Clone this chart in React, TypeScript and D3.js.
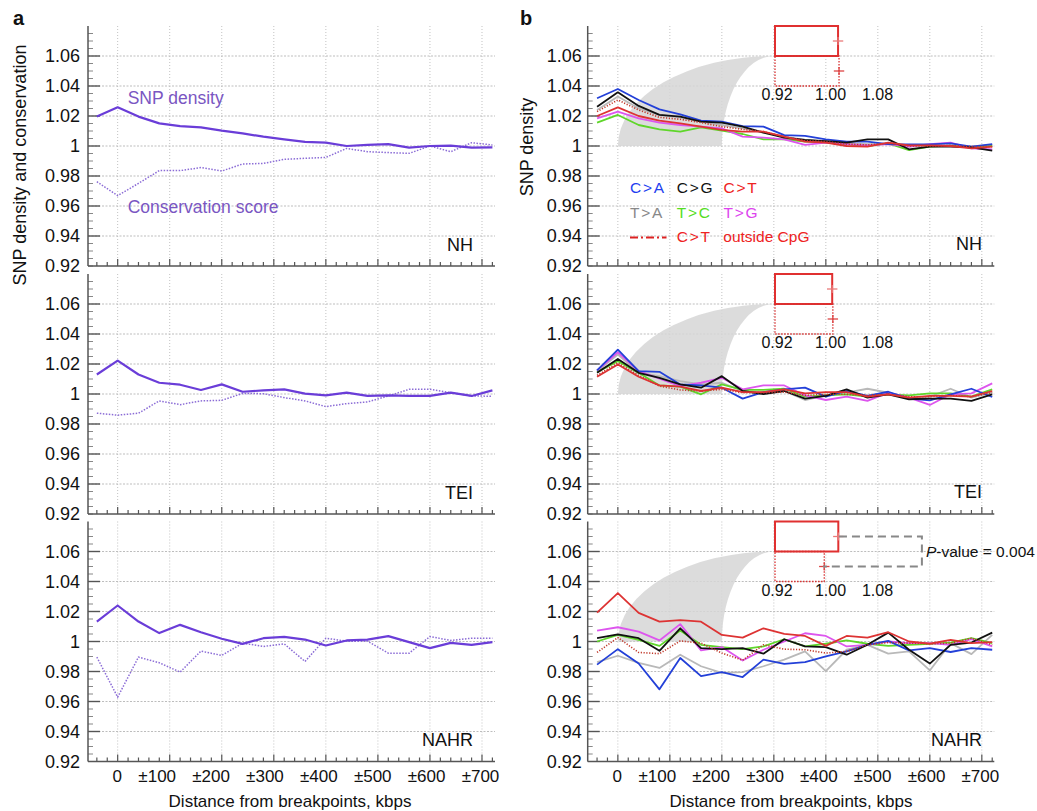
import React from "react";
import * as d3 from "d3";

// ---------- DATA ----------
const DIST = [-40, 0, 40, 80, 120, 160, 200, 240, 280, 320, 360, 400, 440, 480, 520, 560, 600, 640, 680, 720];
const X_TICKS = [0, 100, 200, 300, 400, 500, 600, 700];
const X_TICK_LABELS = ["0", "±100", "±200", "±300", "±400", "±500", "±600", "±700"];
const Y_TICKS = [0.92, 0.94, 0.96, 0.98, 1.0, 1.02, 1.04, 1.06];
const Y_TICK_LABELS = ["0.92", "0.94", "0.96", "0.98", "1", "1.02", "1.04", "1.06"];
const PANELS = ["NH", "TEI", "NAHR"];

// panel a: SNP density & conservation
const NH_SNP = [1.0196, 1.0258, 1.0196, 1.0151, 1.0133, 1.0124, 1.0102, 1.0084, 1.0062, 1.0044, 1.0027, 1.0022, 1.0, 1.0007, 1.0013, 0.9989, 1.0, 1.0002, 0.9989, 0.9991];
const NH_CONS = [0.9762, 0.9669, 0.9751, 0.9836, 0.9836, 0.9856, 0.9833, 0.988, 0.9884, 0.9911, 0.9918, 0.9924, 0.9984, 0.9962, 0.9956, 0.9951, 1.0, 0.9962, 1.0022, 1.0007];
const TEI_SNP = [1.013, 1.0223, 1.013, 1.0075, 1.0062, 1.0027, 1.0064, 1.0015, 1.0024, 1.0031, 1.0002, 0.9991, 1.0009, 0.9987, 0.9991, 0.9987, 0.9987, 1.0009, 0.9987, 1.0024];
const TEI_CONS = [0.9872, 0.9859, 0.9872, 0.9954, 0.9929, 0.9954, 0.9958, 1.0004, 1.0002, 0.9976, 0.9954, 0.9916, 0.9936, 0.9947, 0.9987, 1.0031, 1.0031, 1.0009, 0.9987, 0.9985];
const NAHR_SNP = [1.0133, 1.024, 1.0133, 1.0056, 1.0111, 1.0062, 1.0018, 0.9984, 1.0022, 1.0031, 1.0013, 0.9973, 1.0007, 1.0013, 1.0036, 0.9996, 0.9956, 0.9991, 0.9978, 0.9996];
const NAHR_CONS = [0.9896, 0.9629, 0.9896, 0.9858, 0.9796, 0.9936, 0.9907, 0.9989, 0.9967, 0.9984, 0.9867, 1.0022, 1.0002, 1.0002, 0.9922, 0.9922, 1.0033, 1.0007, 1.0022, 1.0022];

// panel b: SNP density by mutation type
const NH_CA = [1.0318, 1.038, 1.0307, 1.0244, 1.0211, 1.0169, 1.0162, 1.0133, 1.0129, 1.0073, 1.0067, 1.0044, 1.0029, 1.0029, 1.0013, 1.0011, 1.0011, 1.0018, 0.9996, 1.0013];
const NH_CG = [1.0262, 1.0358, 1.0267, 1.0207, 1.0196, 1.0162, 1.0156, 1.0129, 1.0089, 1.0056, 1.004, 1.0033, 1.0022, 1.0044, 1.0044, 0.9978, 0.9996, 0.9996, 0.9991, 0.9969];
const NH_CT = [1.02, 1.0258, 1.02, 1.0169, 1.0151, 1.0129, 1.0107, 1.0096, 1.0096, 1.0062, 1.0029, 1.0022, 1.0, 0.9996, 1.0022, 1.0004, 1.0004, 1.0, 0.9984, 0.9996];
const NH_TA = [1.024, 1.033, 1.0251, 1.0207, 1.0191, 1.0162, 1.014, 1.0118, 1.0089, 1.0062, 1.004, 1.0029, 1.0018, 1.0013, 1.0013, 0.9996, 1.0004, 1.0, 0.9996, 1.0007];
const NH_TC = [1.0156, 1.0207, 1.014, 1.0111, 1.0096, 1.0124, 1.0102, 1.008, 1.0044, 1.0044, 1.0029, 1.0022, 1.0013, 1.0, 1.0018, 0.9973, 0.9996, 1.0002, 0.9991, 1.0];
const NH_TG = [1.0184, 1.0229, 1.0184, 1.0156, 1.014, 1.0129, 1.0118, 1.0062, 1.0056, 1.0044, 1.0007, 1.0022, 1.0013, 1.0004, 1.0013, 0.9996, 1.0013, 1.0022, 0.9984, 0.9978];
const NH_CT_NONCPG = [1.0229, 1.0307, 1.024, 1.0191, 1.0178, 1.0156, 1.0129, 1.0111, 1.0096, 1.0062, 1.0036, 1.0029, 1.0013, 1.0007, 1.0018, 1.0, 1.0, 1.0004, 0.9996, 0.9996];

const TEI_CA = [1.0157, 1.0296, 1.0152, 1.0148, 1.0064, 1.0057, 1.0042, 0.9969, 1.0013, 1.0031, 1.0042, 0.9982, 1.002, 0.9987, 1.0015, 0.9969, 0.9958, 0.9998, 1.0035, 0.998];
const TEI_CG = [1.0141, 1.0234, 1.0141, 1.0108, 1.0064, 1.0042, 1.0119, 1.002, 1.0, 1.002, 0.9969, 0.9987, 1.0031, 0.9976, 0.9998, 0.9965, 0.9969, 0.9969, 0.9954, 0.9998];
const TEI_CT = [1.0115, 1.0197, 1.0115, 1.0057, 1.0049, 1.002, 1.0042, 1.0013, 1.0013, 1.0031, 1.0004, 1.0013, 1.0013, 0.9982, 0.9998, 0.9976, 0.9987, 0.9987, 0.9982, 1.002];
const TEI_TA = [1.0152, 1.0263, 1.0141, 1.0119, 1.0086, 1.0064, 1.0075, 1.002, 1.0009, 1.002, 0.996, 0.9991, 1.0009, 1.0035, 1.0009, 0.9969, 0.9982, 1.0035, 0.9976, 1.0009];
const TEI_TC = [1.0146, 1.0219, 1.0141, 1.0057, 1.0049, 0.9998, 1.0064, 1.0027, 1.0027, 1.0035, 0.9982, 0.9991, 0.9998, 0.9982, 0.9998, 0.9991, 1.0004, 1.0004, 0.9982, 1.0031];
const TEI_TG = [1.0157, 1.0278, 1.0152, 1.0102, 1.0053, 1.0075, 1.0108, 1.0031, 1.0057, 1.0057, 0.9991, 0.996, 0.9982, 0.9954, 1.0009, 0.9976, 0.9927, 0.9998, 1.0004, 1.0071];
const TEI_CT_NONCPG = [1.0124, 1.0208, 1.0124, 1.0053, 1.0027, 1.002, 1.0031, 1.0009, 1.0009, 1.0013, 0.9991, 0.9998, 0.9998, 0.9991, 0.9998, 0.9982, 0.9982, 0.9991, 0.9982, 1.0009];

const NAHR_CA = [0.9846, 0.9949, 0.9853, 0.9681, 0.989, 0.9769, 0.9796, 0.9763, 0.9879, 0.9851, 0.9862, 0.9901, 0.9934, 0.9978, 1.0004, 0.9941, 0.9956, 0.993, 0.9956, 0.9945];
const NAHR_CG = [1.0022, 1.0048, 1.0022, 0.9938, 1.0088, 0.9956, 0.9949, 0.9956, 0.9919, 1.0015, 0.9967, 0.9963, 0.9912, 0.9978, 1.0059, 0.9945, 0.9853, 0.9978, 0.9993, 1.0059];
const NAHR_CT = [1.0193, 1.0323, 1.0191, 1.0132, 1.0143, 1.0132, 1.0044, 1.0026, 1.0088, 1.0051, 1.0037, 0.9971, 1.0037, 1.0026, 1.0062, 1.0, 0.9985, 1.0011, 0.9989, 0.9996];
const NAHR_TA = [0.9862, 0.9905, 0.9857, 0.9824, 0.9912, 0.9835, 0.9791, 0.9796, 0.9835, 0.9879, 0.9934, 0.9802, 0.9945, 0.9978, 0.9919, 0.9934, 0.9807, 0.9989, 0.9916, 1.0044];
const NAHR_TC = [1.0, 1.0044, 1.0011, 0.9971, 1.0073, 0.9978, 0.9963, 0.9949, 0.9967, 1.0015, 0.9967, 0.9985, 1.0007, 0.9985, 0.9971, 0.9978, 0.9985, 0.9993, 1.0022, 0.9989];
const NAHR_TG = [1.0073, 1.0095, 1.0066, 1.0007, 1.0116, 0.9941, 0.9963, 0.9873, 0.9945, 1.0, 1.0055, 1.0037, 0.9967, 0.9978, 1.0, 0.9989, 0.9989, 0.9978, 1.0015, 0.9967];
const NAHR_CT_NONCPG = [0.9927, 1.0026, 0.9927, 0.9919, 1.0004, 0.9989, 0.9923, 0.9875, 0.9978, 0.9949, 0.9945, 0.9923, 0.9934, 0.9978, 0.9993, 0.9989, 0.9985, 0.9989, 1.0022, 0.9978];

// inset bars (C>T all vs C>T outside CpG), per panel
const INSET_CT = [1.017, 1.008, 1.0174];
const INSET_CT_NONCPG = [1.0185, 1.009, 0.9958];
const INSET_TICKS = [0.92, 1.0, 1.08];
const INSET_TICK_LABELS = ["0.92", "1.00", "1.08"];
const P_VALUE_TEXT = "-value = 0.004";

const LEGEND_ROWS = [
  [["C>A", "#1f3ff0"], ["C>G", "#111111"], ["C>T", "#ee2222"]],
  [["T>A", "#888888"], ["T>C", "#55dd22"], ["T>G", "#dd44ee"]],
];

// ---------- LAYOUT / STYLE ----------
const W = 1037, H = 811;
const FONT = "'Liberation Sans', Arial, Helvetica, sans-serif";
const PANEL_TOPS = [26, 274, 521.5];
const PANEL_H = 240;
const PURPLE = "#6a3dd8";
const PURPLE_TXT = "#7a56c2";

const SERIES_STYLE = [
  { key: "TA", color: "#b9b9b9", dash: null },
  { key: "TC", color: "#5fd62a", dash: null },
  { key: "TG", color: "#dd55ee", dash: null },
  { key: "CA", color: "#2340d8", dash: null },
  { key: "CG", color: "#111111", dash: null },
  { key: "CTo", color: "#c0392b", dash: "1.2 1.6" },
  { key: "CT", color: "#dd3333", dash: null },
];
const B_DATA = [
  { TA: NH_TA, TC: NH_TC, TG: NH_TG, CA: NH_CA, CG: NH_CG, CTo: NH_CT_NONCPG, CT: NH_CT },
  { TA: TEI_TA, TC: TEI_TC, TG: TEI_TG, CA: TEI_CA, CG: TEI_CG, CTo: TEI_CT_NONCPG, CT: TEI_CT },
  { TA: NAHR_TA, TC: NAHR_TC, TG: NAHR_TG, CA: NAHR_CA, CG: NAHR_CG, CTo: NAHR_CT_NONCPG, CT: NAHR_CT },
];
const A_DATA = [
  { snp: NH_SNP, cons: NH_CONS },
  { snp: TEI_SNP, cons: TEI_CONS },
  { snp: NAHR_SNP, cons: NAHR_CONS },
];

const xA = d3.scaleLinear().domain([-57, 725]).range([88, 495]);
const xB = d3.scaleLinear().domain([-58, 724]).range([587.7, 994.3]);
const insetX = d3.scaleLinear().domain([0.92, 1.08]).range([775, 879]);
const labelShift = d3.scaleLinear().domain([100, 700]).range([-12.5, -1.5]);

const yFor = (top: number) => d3.scaleLinear().domain([0.92, 1.08]).range([top + PANEL_H, top]);

function Frame({ x, y, showLabels, labelOffset }: any) {
  const [x0, x1] = x.range();
  const minorY = d3.range(0, 32).map((i) => 0.92 + i * 0.005);
  const minorX = d3.range(-40, 721, 20);
  const [yb, yt] = y.range();
  return (
    <g>
      {/* grid */}
      {X_TICKS.map((v) => (
        <line key={"gx" + v} x1={x(v)} x2={x(v)} y1={yt} y2={yb} stroke="#c2c2c2" strokeWidth={1} strokeDasharray="1 2" />
      ))}
      {Y_TICKS.slice(1).map((v) => (
        <line key={"gy" + v} x1={x0} x2={x1} y1={y(v)} y2={y(v)} stroke="#bdbdbd" strokeWidth={1} strokeDasharray="2 1.5" />
      ))}
      {/* y ticks */}
      {minorY.map((v, i) => {
        const major = i % 4 === 0 && i > 0;
        return (
          <line key={"ty" + i} x1={x0} x2={x0 + (major ? 12 : 5)} y1={y(v)} y2={y(v)} stroke={major ? "#555" : "#888"} strokeWidth={major ? 1.4 : 1} />
        );
      })}
      {/* x ticks */}
      {minorX.map((v) => {
        const major = v % 100 === 0 && v >= 0;
        return (
          <line key={"tx" + v} x1={x(v)} x2={x(v)} y1={yb} y2={yb - (major ? 7 : 4)} stroke="#555" strokeWidth={1.2} />
        );
      })}
      {/* axes */}
      <line x1={x0} x2={x0} y1={yt} y2={yb} stroke="#555" strokeWidth={1.5} />
      <line x1={x0} x2={x1} y1={yb} y2={yb} stroke="#555" strokeWidth={1.5} />
      {/* y labels */}
      {Y_TICKS.map((v, i) => (
        <text key={"ly" + v} x={x0 - labelOffset} y={y(v)} dy="0.36em" textAnchor="end" fontSize={18} fill="#111">
          {Y_TICK_LABELS[i]}
        </text>
      ))}
      {showLabels &&
        X_TICKS.map((v, i) => (
          <text key={"lx" + v} x={x(v) + (v === 0 ? -0.5 : labelShift(v))} y={yb + 20} textAnchor="middle" fontSize={17} fill="#111">
            {X_TICK_LABELS[i]}
          </text>
        ))}
    </g>
  );
}

export default function App() {
  const lineGen = (x: any, y: any) =>
    d3
      .line<number>()
      .x((_, i) => x(DIST[i]))
      .y((d) => y(d));

  return (
    <svg width={W} height={H} style={{ position: "absolute", left: 0, top: 0, background: "#fff" }} fontFamily={FONT}>
      <rect x={0} y={0} width={W} height={H} fill="#fff" />
      {/* Panel letters */}
      <text x={13} y={25} fontSize={20} fontWeight="bold" fill="#111">a</text>
      <text x={520} y={25} fontSize={20} fontWeight="bold" fill="#111">b</text>
      {/* Y axis titles */}
      <text transform={`translate(26,165) rotate(-90)`} textAnchor="middle" fontSize={18} fill="#111">
        SNP density and conservation
      </text>
      <text transform={`translate(533,147) rotate(-90)`} textAnchor="middle" fontSize={18} fill="#111">
        SNP density
      </text>

      {PANELS.map((name, pi) => {
        const top = PANEL_TOPS[pi];
        const y = yFor(top);
        const last = pi === PANELS.length - 1;
        const la = lineGen(xA, y);
        const lb = lineGen(xB, y);
        const bd: any = B_DATA[pi];
        const yb = y(0.92);
        // crescent highlight
        const cx0 = xB(0), cx1 = xB(300), cx2 = xB(200);
        const cy0 = y(1.0), cy1 = y(1.06);
        const crescent = `M${cx0},${cy0} A${cx1 - cx0},${cy0 - cy1} 0 0 1 ${cx1},${cy1} A${cx1 - cx2},${cy0 - cy1} 0 0 0 ${cx2},${cy0} Z`;
        const rowSolid = [y(1.08), y(1.06)];
        const rowDot = [y(1.06), y(1.04)];
        const ix0 = insetX(0.92);
        const vS = INSET_CT[pi];
        const vD = INSET_CT_NONCPG[pi];
        const midS = y(1.07), midD = y(1.05);
        const eb = 0.008;
        return (
          <g key={name}>
            {/* Panel a */}
            <Frame x={xA} y={y} showLabels={last} labelOffset={8} />
            <path d={la(A_DATA[pi].cons) || ""} fill="none" stroke="#8b6cd6" strokeWidth={1.5} strokeDasharray="1.5 1.5" />
            <path d={la(A_DATA[pi].snp) || ""} fill="none" stroke={PURPLE} strokeWidth={2.2} strokeLinejoin="round" />
            <text x={473} y={yb - 15.5} textAnchor="end" fontSize={18} fill="#111">{name}</text>

            {/* Panel b */}
            <Frame x={xB} y={y} showLabels={last} labelOffset={6} />
            <path d={crescent} fill="#d6d6d6" opacity={0.85} />
            {SERIES_STYLE.map((s) => (
              <path
                key={s.key}
                d={lb(bd[s.key]) || ""}
                fill="none"
                stroke={s.color}
                strokeWidth={s.dash ? 1.6 : 1.8}
                strokeDasharray={s.dash || undefined}
                strokeLinejoin="round"
              />
            ))}
            <text x={982} y={yb - 16} textAnchor="end" fontSize={18} fill="#111">{name}</text>

            {/* inset bar chart */}
            <rect x={ix0} y={rowSolid[0]} width={insetX(vS) - ix0} height={rowSolid[1] - rowSolid[0]} fill="#fff" stroke="#e03030" strokeWidth={2} />
            <rect x={ix0} y={rowDot[0]} width={insetX(vD) - ix0} height={rowDot[1] - rowDot[0]} fill="none" stroke="#d83030" strokeWidth={1.3} strokeDasharray="1.5 1.5" />
            <line x1={insetX(vS - eb)} x2={insetX(vS + eb)} y1={midS} y2={midS} stroke="#ea7a7a" strokeWidth={1.3} />
            <line x1={insetX(vS)} x2={insetX(vS)} y1={midS - 4} y2={midS + 4} stroke="#ea7a7a" strokeWidth={1.3} />
            <line x1={insetX(vD - eb)} x2={insetX(vD + eb)} y1={midD} y2={midD} stroke="#dd4444" strokeWidth={1.3} />
            <line x1={insetX(vD)} x2={insetX(vD)} y1={midD - 4} y2={midD + 4} stroke="#dd4444" strokeWidth={1.3} />
            {INSET_TICKS.map((v, i) => (
              <text key={"it" + v} x={insetX(v) + (i === 0 ? 2 : i === 1 ? 3.5 : -1.5)} y={y(1.04) + 14} textAnchor="middle" fontSize={16} fill="#111">
                {INSET_TICK_LABELS[i]}
              </text>
            ))}

            {last && (
              <g>
                <path
                  d={`M${insetX(vS + 0.001)},${midS} H${insetX(1.146)} V${midD} H${insetX(vD - 0.002)}`}
                  fill="none"
                  stroke="#888"
                  strokeWidth={2}
                  strokeDasharray="8 5"
                />
                <text x={insetX(1.146) + 4} y={(midS + midD) / 2 + 5.5} fontSize={15.5} fill="#111">
                  <tspan fontStyle="italic">P</tspan>
                  {P_VALUE_TEXT}
                </text>
              </g>
            )}

            {pi === 0 && (
              <g>
                <text x={127.7} y={104} fontSize={17.5} fill={PURPLE_TXT}>SNP density</text>
                <text x={127.7} y={213} fontSize={17.5} fill={PURPLE_TXT}>Conservation score</text>
                {LEGEND_ROWS.map((row, ri) =>
                  row.map(([label, color], ci) => (
                    <text key={label} x={630 + ci * 46.7} y={193 + ri * 24.5} fontSize={15.5} letterSpacing={1.8} fill={color}>
                      {label}
                    </text>
                  ))
                )}
                <line x1={630} x2={666.5} y1={237.5} y2={237.5} stroke="#d22" strokeWidth={2.2} strokeDasharray="8 3 2 3" />
                <text x={676.7} y={242} fontSize={15.5} letterSpacing={1.8} fill="#ee2222">C&gt;T</text>
                <text x={723.3} y={242} fontSize={15.5} fill="#ee2222">outside CpG</text>
              </g>
            )}
          </g>
        );
      })}

      {/* X axis titles */}
      <text x={290} y={807} textAnchor="middle" fontSize={17} fill="#111">Distance from breakpoints, kbps</text>
      <text x={791} y={807} textAnchor="middle" fontSize={17} fill="#111">Distance from breakpoints, kbps</text>
    </svg>
  );
}
